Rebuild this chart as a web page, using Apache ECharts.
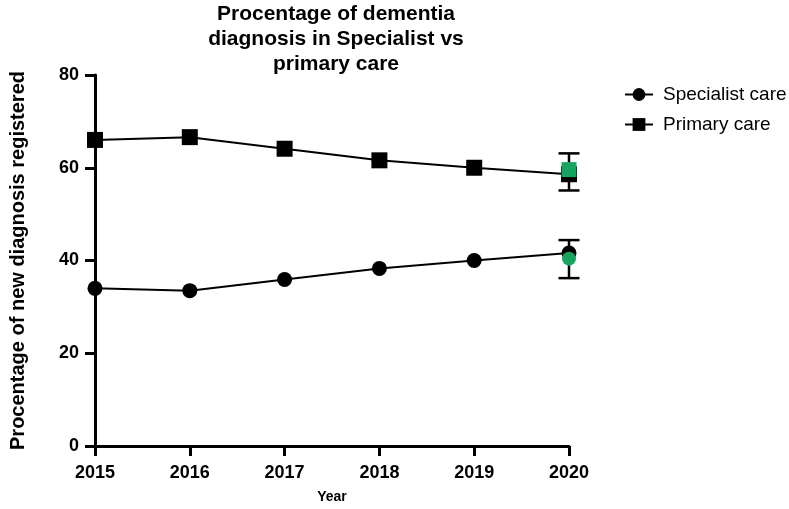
<!DOCTYPE html>
<html>
<head>
<meta charset="utf-8">
<script src="https://cdn.jsdelivr.net/npm/echarts@6/dist/echarts.min.js"></script>
<style>html,body{margin:0;padding:0;background:#fff;overflow:hidden;}#c{width:789px;height:509px;}</style>
</head>
<body>
<div id="c"></div>
<script>
var years = ['2015', '2016', '2017', '2018', '2019', '2020'];
var specialist = [34.0, 33.5, 35.9, 38.3, 40.0, 41.6];
var primary = [66.0, 66.6, 64.1, 61.6, 60.0, 58.6];
// error bars at 2020: [yearIndex, low, high]
var specialistErr = [[5, 36.2, 44.4]];
var primaryErr = [[5, 55.1, 63.1]];
// green overlay points at 2020
var specialistGreen = [[5, 40.4]];
var primaryGreen = [[5, 59.6]];
var yTicks = [0, 20, 40, 60, 80];

var FONT = 'Arial, "Liberation Sans", sans-serif';
var GREEN = '#17a360';

function errRender(params, api) {
  var x = api.value(0);
  var lo = api.coord([x, api.value(1)]);
  var hi = api.coord([x, api.value(2)]);
  var hw = 10.5;
  var st = {stroke: '#000', lineWidth: 2.5};
  return {
    type: 'group',
    children: [
      {type: 'line', shape: {x1: lo[0], y1: lo[1], x2: hi[0], y2: hi[1]}, style: st},
      {type: 'line', shape: {x1: lo[0] - hw, y1: lo[1], x2: lo[0] + hw, y2: lo[1]}, style: st},
      {type: 'line', shape: {x1: hi[0] - hw, y1: hi[1], x2: hi[0] + hw, y2: hi[1]}, style: st}
    ]
  };
}

var chart = echarts.init(document.getElementById('c'), null, {renderer: 'canvas', width: 789, height: 509});
chart.setOption({
  animation: false,
  backgroundColor: '#fff',
  title: {
    text: 'Procentage of dementia\ndiagnosis in Specialist vs\nprimary care',
    left: 331, top: -3, textAlign: 'center',
    textStyle: {fontFamily: FONT, fontWeight: 'bold', fontSize: 21, lineHeight: 25, color: '#000'}
  },
  legend: {
    left: 619, top: 80, orient: 'vertical',
    itemWidth: 28, itemHeight: 16, itemGap: 11,
    data: ['Specialist care', 'Primary care'],
    textStyle: {fontFamily: FONT, fontSize: 19, color: '#000', padding: [0, 0, 0, 5]}
  },
  grid: {left: 93, width: 476, top: 75, height: 374, containLabel: false},
  xAxis: {
    type: 'category', data: years, boundaryGap: false,
    name: 'Year', nameLocation: 'middle', nameGap: 44,
    nameTextStyle: {fontFamily: FONT, fontWeight: 'bold', fontSize: 14, color: '#000'},
    axisLine: {lineStyle: {color: '#000', width: 3}},
    axisTick: {alignWithLabel: true, length: 10, lineStyle: {color: '#000', width: 3}},
    axisLabel: {fontFamily: FONT, fontWeight: 'bold', fontSize: 18, color: '#000', margin: 18},
    splitLine: {show: false}
  },
  yAxis: {
    type: 'value', min: 0, max: 80, interval: 20,
    name: 'Procentage of new diagnosis registered', nameLocation: 'middle', nameGap: 67,
    nameTextStyle: {fontFamily: FONT, fontWeight: 'bold', fontSize: 20, color: '#000'},
    axisLine: {show: true, lineStyle: {color: '#000', width: 3}},
    axisTick: {show: true, length: 10, lineStyle: {color: '#000', width: 3}},
    axisLabel: {fontFamily: FONT, fontWeight: 'bold', fontSize: 18, color: '#000', margin: 16,
      formatter: function (v) { return yTicks.indexOf(v) >= 0 ? String(v) : ''; }},
    splitLine: {show: false}
  },
  series: [
    {type: 'custom', name: 'errS', renderItem: errRender, data: specialistErr, z: 1, silent: true},
    {type: 'custom', name: 'errP', renderItem: errRender, data: primaryErr, z: 1, silent: true},
    {
      type: 'line', name: 'Specialist care', data: specialist, z: 3,
      symbol: 'circle', symbolSize: 15, showAllSymbol: true,
      lineStyle: {color: '#000', width: 2}, itemStyle: {color: '#000'}
    },
    {
      type: 'line', name: 'Primary care', data: primary, z: 3,
      symbol: 'rect', symbolSize: 16, showAllSymbol: true,
      lineStyle: {color: '#000', width: 2}, itemStyle: {color: '#000'}
    },
    {
      type: 'scatter', name: 'gS', data: specialistGreen, z: 5,
      symbol: 'circle', symbolSize: 14, itemStyle: {color: GREEN, opacity: 1}
    },
    {
      type: 'scatter', name: 'gP', data: primaryGreen, z: 5,
      symbol: 'rect', symbolSize: 15, itemStyle: {color: GREEN, opacity: 1}
    }
  ]
});
</script>
</body>
</html>
